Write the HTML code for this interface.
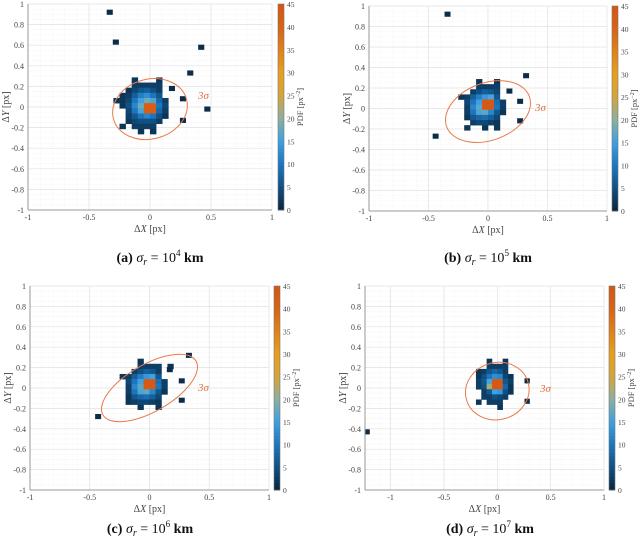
<!DOCTYPE html>
<html><head><meta charset="utf-8">
<style>
html,body{margin:0;padding:0;background:#fff;}
svg{display:block;font-family:"Liberation Serif",serif;}
</style></head>
<body>
<svg id="fig" width="640" height="542" viewBox="0 0 640 542" xmlns="http://www.w3.org/2000/svg"></svg>
<script>
// ---- data ----
const binSize = 0.05;
const blobA = [
 [0,0,0,2,0,0,0,2,0,0,0],
 [0,0,0,3,3,3,3,3,0,0,0],
 [0,0,2,4,6,7,5,3,0,0,0],
 [0,2,3,7,11,13,10,6,0,0,0],
 [2,2,4,10,15,18,16,8,3,0,0],
 [0,2,5,12,18,42,42,10,4,0,0],
 [0,0,4,10,16,42,42,8,3,0,0],
 [0,0,3,6,10,12,10,5,2,0,0],
 [0,0,2,4,5,5,5,3,0,0,0],
 [0,2,0,3,3,3,3,0,0,0,0],
 [0,0,0,0,2,0,2,0,0,0,0]
];
const blobB = [
 [0,0,0,0,2,0,0,2,0,0,0],
 [0,0,0,0,3,3,3,3,0,0,0],
 [0,0,0,3,5,7,6,4,0,0,0],
 [0,2,3,7,11,14,16,6,0,0,0],
 [0,0,4,10,15,44,44,9,3,0,0],
 [0,0,3,12,17,44,44,10,3,0,0],
 [0,0,3,10,16,17,12,6,2,0,0],
 [0,0,2,6,8,9,7,4,0,0,0],
 [0,0,0,3,4,4,3,2,0,0,0],
 [0,0,2,0,0,2,0,2,0,0,0],
 [0,0,0,0,0,0,0,0,0,0,0]
];
const blobC = [
 [0,0,0,0,2,0,0,0,0,0,0],
 [0,0,0,0,3,3,3,3,0,2,0],
 [0,0,0,3,5,7,6,3,0,0,0],
 [0,2,3,7,11,14,15,6,0,0,0],
 [0,0,4,10,15,44,44,9,3,0,0],
 [0,0,3,12,17,44,44,10,3,0,0],
 [0,0,3,10,16,17,12,6,2,0,0],
 [0,0,2,6,8,9,7,4,0,0,0],
 [0,0,2,3,4,4,3,2,0,0,0],
 [0,0,0,0,2,0,0,2,0,0,0],
 [0,0,0,0,0,0,0,0,0,0,0]
];
const blobD = [
 [0,0,0,0,2,0,0,2,0,0,0],
 [0,0,0,0,3,3,3,3,0,0,0],
 [0,0,2,3,6,8,6,3,0,0,0],
 [0,0,2,5,10,13,12,4,2,0,0],
 [0,0,3,6,16,44,44,6,3,0,0],
 [0,0,3,5,22,44,44,8,2,0,0],
 [0,0,0,3,6,15,14,5,2,0,0],
 [0,0,0,3,3,5,4,3,0,0,0],
 [0,0,2,0,3,3,3,0,0,0,0],
 [0,0,0,0,0,0,2,0,0,0,0],
 [0,0,0,0,0,0,0,0,0,0,0]
];
const outA = [[-0.33,0.92,1],[-0.28,0.63,1],[0.42,0.58,1],[0.33,0.33,1],[0.47,-0.02,1],[0.18,0.18,1],[0.27,0.08,1],[0.27,-0.13,1]];
const outB = [[-0.34,0.92,1],[0.32,0.32,1],[-0.44,-0.27,1],[0.18,0.17,1],[0.27,0.07,1],[0.27,-0.12,1]];
const outC = [[0.33,0.32,1],[-0.43,-0.28,1],[0.17,0.18,1],[0.27,0.07,1],[0.27,-0.12,1]];
const outD = [[-1.22,-0.43,1],[0.28,0.07,1],[0.28,-0.13,1]];
const ellA = [0.0,-0.02,0.31,0.29,-15];
const ellB = [0.0,-0.03,0.37,0.28,-20];
const ellC = [0.0,0.0,0.45,0.23,-30];
const ellD = [0.0,-0.03,0.3,0.28,-15];
const xTicks = [-1,-0.5,0,0.5,1];
const xTicksD = [-1,-0.5,0,0.5,1];
const yTicks = [-1,-0.8,-0.6,-0.4,-0.2,0,0.2,0.4,0.6,0.8,1];
const cbTicks = [0,5,10,15,20,25,30,35,40,45];
const captionsExp = ['4','5','6','7'];
const captionsLetter = ['a','b','c','d'];

const cmapStops = [[0,[10,36,60]],[5,[16,80,130]],[10,[28,118,190]],[15,[60,160,225]],[20,[140,175,160]],[25,[210,165,60]],[30,[230,160,30]],[35,[225,130,25]],[40,[215,100,20]],[45,[215,85,20]]];
function cmap(v){
  for(let i=0;i<cmapStops.length-1;i++){
    const a=cmapStops[i],b=cmapStops[i+1];
    if(v<=b[0]){const t=Math.max(0,(v-a[0])/(b[0]-a[0]));
      return 'rgb('+a[1].map((c,k)=>Math.round(c+(b[1][k]-c)*t)).join(',')+')';}
  }
  return 'rgb(215,85,20)';
}

const NS='http://www.w3.org/2000/svg';
const svg=document.getElementById('fig');
function mk(tag,attrs,parent){const e=document.createElementNS(NS,tag);for(const k in attrs)e.setAttribute(k,attrs[k]);(parent||svg).appendChild(e);return e;}

const panels=[
 {L:28,R:272,T:4,B:210,x0:-1,x1:1,cb:278,blob:blobA,out:outA,ell:ellA,xt:xTicks,cap:[160,262],lab:[198,99]},
 {L:369,R:607,T:6,B:211,x0:-1,x1:1,cb:612,blob:blobB,out:outB,ell:ellB,xt:xTicks,cap:[488,262],lab:[535,111]},
 {L:30,R:269,T:286,B:490,x0:-1,x1:1,cb:274,blob:blobC,out:outC,ell:ellC,xt:xTicks,cap:[150,533],lab:[198,391]},
 {L:365,R:604,T:286,B:490,x0:-1.24,x1:1,cb:609,blob:blobD,out:outD,ell:ellD,xt:xTicksD,cap:[490,533],lab:[540,392]}
];

panels.forEach((p,pi)=>{
  const g=mk('g',{});
  
  
  const sx=v=>p.L+(v-p.x0)/(p.x1-p.x0)*(p.R-p.L);
  const sy=v=>p.B-(v+1)/2*(p.B-p.T);
  for(let v=-1;v<=1.001;v+=0.05){
    mk('line',{x1:p.L,x2:p.R,y1:sy(v),y2:sy(v),stroke:'#f0f0f0','stroke-width':0.6,'stroke-dasharray':'1,1'},g);
  }
  for(let v=Math.ceil(p.x0*10)/10;v<=1.001;v+=0.1){
    mk('line',{x1:sx(v),x2:sx(v),y1:p.T,y2:p.B,stroke:'#f2f2f2','stroke-width':0.6,'stroke-dasharray':'1,1'},g);
  }
  yTicks.forEach(v=>{
    const l=mk('line',{x1:p.L,x2:p.R,y1:sy(v),y2:sy(v),stroke:'#e2e2e2','stroke-width':0.7},g);
    
    
    const t=mk('text',{x:p.L-4,y:sy(v)+3,'font-size':8,'text-anchor':'end',fill:'#444'},g);
    t.textContent=v;
    
    
  });
  p.xt.forEach(v=>{
    mk('line',{x1:sx(v),x2:sx(v),y1:p.T,y2:p.B,stroke:'#e2e2e2','stroke-width':0.7},g);
    const t=mk('text',{x:sx(v),y:p.B+10,'font-size':8,'text-anchor':'middle',fill:'#444'},g);
    t.textContent=v;
    
    
  });
  const n=p.blob.length, half=(n-1)/2;
  const cw=binSize/(p.x1-p.x0)*(p.R-p.L), ch=binSize/2*(p.B-p.T);
  p.blob.forEach((row,r)=>row.forEach((v,c)=>{
    if(!v)return;
    const cx=(c-half-0.5)*binSize, cy=(half-r)*binSize+binSize/4;
    const rc=mk('rect',{x:sx(cx)-cw/2,y:sy(cy)-ch/2,width:cw+0.3,height:ch+0.3,fill:cmap(v)},g);
    
    
  }));
  p.out.forEach(o=>{
    const rc=mk('rect',{x:sx(o[0])-cw/2,y:sy(o[1])-ch/2,width:cw,height:ch,fill:cmap(o[2])},g);
    
    
  });
  const e=p.ell;
  const el=mk('ellipse',{cx:sx(e[0]),cy:sy(e[1]),rx:e[2]/(p.x1-p.x0)*(p.R-p.L),ry:e[3]/2*(p.B-p.T),fill:'none',stroke:'#e87a4a','stroke-width':1,transform:'rotate('+e[4]+' '+sx(e[0])+' '+sy(e[1])+')'},g);
  
  
  const lt=mk('text',{x:p.lab[0],y:p.lab[1],'font-size':11,'font-style':'italic',fill:'#e07040'},g);
  lt.textContent='3σ';
  
  
  mk('line',{x1:p.L,x2:p.L,y1:p.T,y2:p.B,stroke:'#999','stroke-width':1},g);
  mk('line',{x1:p.L,x2:p.R,y1:p.B,y2:p.B,stroke:'#999','stroke-width':1},g);
  const xt=mk('text',{x:(p.L+p.R)/2,y:p.B+22,'font-size':10,'text-anchor':'middle',fill:'#444'},g);
  xt.innerHTML='Δ<tspan font-style="italic">X</tspan> [px]';
  
  
  const yx=p.L-19, yy=(p.T+p.B)/2;
  const yt=mk('text',{x:yx,y:yy,'font-size':10,'text-anchor':'middle',fill:'#444',transform:'rotate(-90 '+yx+' '+yy+')'},g);
  yt.innerHTML='Δ<tspan font-style="italic">Y</tspan> [px]';
  
  
  const steps=60;
  for(let i=0;i<steps;i++){
    const v0=45*i/steps;
    const y=p.B-(i+1)/steps*(p.B-p.T);
    mk('rect',{x:p.cb,y:y,width:6,height:(p.B-p.T)/steps+0.4,fill:cmap(v0+45/steps/2)},g);
  }
  const cbb=mk('rect',{x:p.cb,y:p.T,width:6,height:p.B-p.T,fill:'none',stroke:'#777','stroke-width':0.6},g);
  
  
  cbTicks.forEach(v=>{
    const y=p.B-v/45*(p.B-p.T);
    const t=mk('text',{x:p.cb+9,y:y+3,'font-size':7.5,fill:'#444'},g);
    t.textContent=v;
    
    
  });
  const cx=p.cb+25, cy=(p.T+p.B)/2;
  const ct=mk('text',{x:cx,y:cy,'font-size':8.5,'text-anchor':'middle',fill:'#444',transform:'rotate(-90 '+cx+' '+cy+')'},g);
  ct.innerHTML='PDF [px<tspan font-size="6" dy="-3">−2</tspan><tspan dy="3">]</tspan>';
  
  
  const cap=mk('text',{x:p.cap[0],y:p.cap[1],'font-size':14,'font-weight':'bold','text-anchor':'middle',fill:'#111'},g);
  cap.innerHTML='('+captionsLetter[pi]+') <tspan font-style="italic" font-weight="normal">σ</tspan><tspan font-style="italic" font-weight="normal" font-size="10" dy="3">r</tspan><tspan dy="-3" font-weight="normal"> = 10</tspan><tspan font-size="9" dy="-6" font-weight="normal">'+captionsExp[pi]+'</tspan><tspan dy="6"> km</tspan>';
  
  
});
</script>
</body></html>
